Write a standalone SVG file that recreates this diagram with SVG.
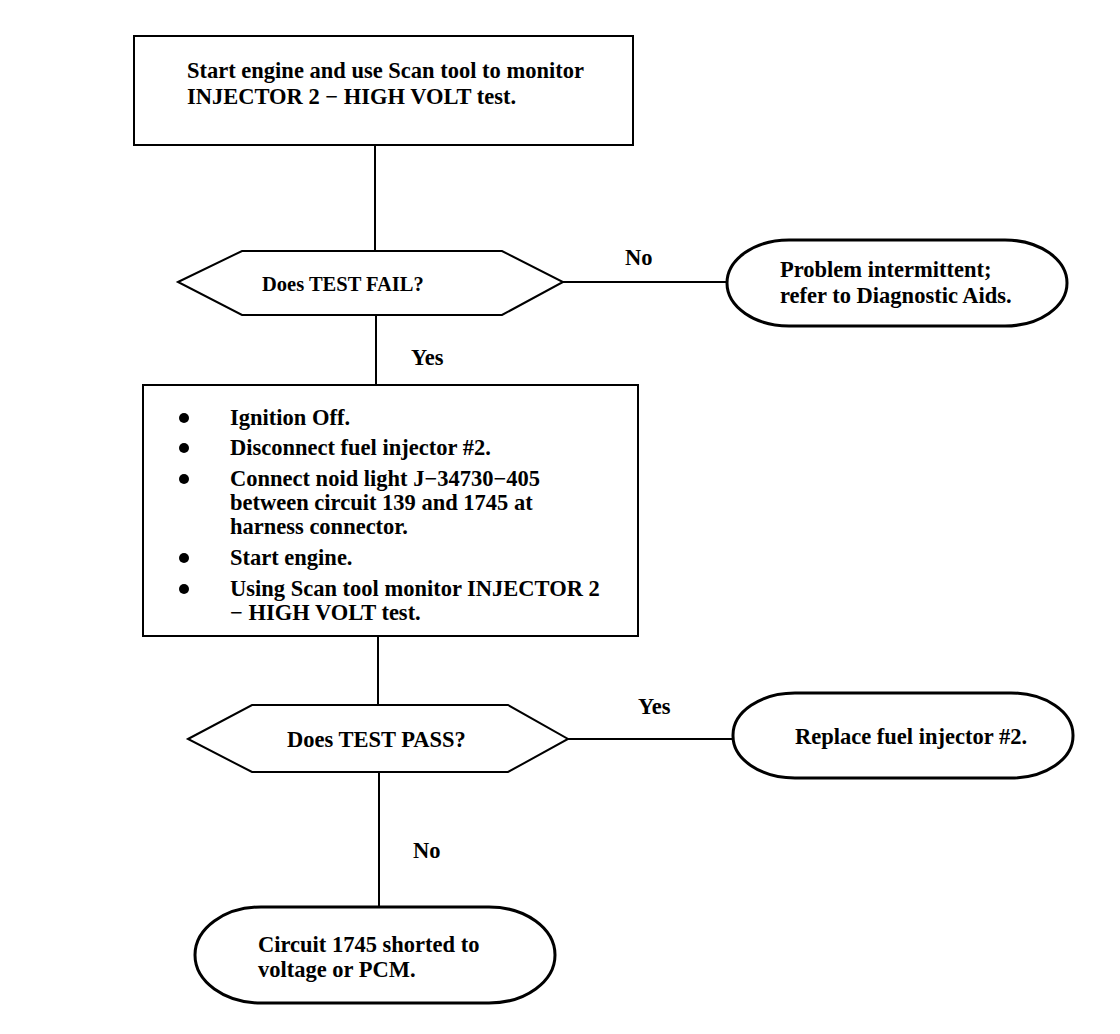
<svg xmlns="http://www.w3.org/2000/svg" width="1120" height="1034" viewBox="0 0 1120 1034">
<style>
.t{font-family:"Liberation Serif","Times New Roman",serif;font-size:22.5px;font-weight:bold;fill:#000}
.sm{font-size:20.5px}
.s{fill:#fff;stroke:#000;stroke-width:2}
.o{fill:#fff;stroke:#000;stroke-width:3}
.c{stroke:#000;stroke-width:2;fill:none}
</style>
<rect width="1120" height="1034" fill="#fff"/>
<g id="connectors">
<line class="c" x1="375" y1="145" x2="375" y2="251"/>
<line class="c" x1="376" y1="315" x2="376" y2="385"/>
<line class="c" x1="563" y1="282" x2="728" y2="282"/>
<line class="c" x1="378" y1="636" x2="378" y2="705"/>
<line class="c" x1="568" y1="739" x2="734" y2="739"/>
<line class="c" x1="379" y1="772" x2="379" y2="907"/>
<text class="t" x="625" y="265">No</text>
<text class="t" x="411" y="365">Yes</text>
<text class="t" x="638" y="714">Yes</text>
<text class="t" x="413" y="858">No</text>
</g>
<g id="start">
<rect class="s" x="134" y="36" width="499" height="109"/>
<text class="t" x="187" y="78">Start engine and use Scan tool to monitor</text>
<text class="t" x="187" y="104">INJECTOR 2 − HIGH VOLT test.</text>
</g>
<g id="testfail">
<polygon class="s" points="178,282 242,251 502,251 563,282 502,315 242,315"/>
<text class="t sm" x="262" y="291">Does TEST FAIL?</text>
</g>
<g id="intermittent">
<rect class="o" x="727" y="240" width="340" height="86" rx="62" ry="43"/>
<text class="t" x="780" y="277">Problem intermittent;</text>
<text class="t" x="780" y="303">refer to Diagnostic Aids.</text>
</g>
<g id="steps">
<rect class="s" x="143" y="385" width="495" height="251"/>
<g fill="#000">
<circle cx="184" cy="418" r="5"/>
<circle cx="184" cy="448" r="5"/>
<circle cx="184" cy="479" r="5"/>
<circle cx="184" cy="558" r="5"/>
<circle cx="184" cy="589" r="5"/>
</g>
<text class="t" x="230" y="425">Ignition Off.</text>
<text class="t" x="230" y="455">Disconnect fuel injector #2.</text>
<text class="t" x="230" y="486">Connect noid light J−34730−405</text>
<text class="t" x="230" y="510">between circuit 139 and 1745 at</text>
<text class="t" x="230" y="534">harness connector.</text>
<text class="t" x="230" y="565">Start engine.</text>
<text class="t" x="230" y="596">Using Scan tool monitor INJECTOR 2</text>
<text class="t" x="230" y="620">− HIGH VOLT test.</text>
</g>
<g id="testpass">
<polygon class="s" points="188,739 252,705 508,705 568,739 508,772 252,772"/>
<text class="t" x="287" y="747">Does TEST PASS?</text>
</g>
<g id="replace">
<rect class="o" x="733" y="693" width="340" height="85" rx="62" ry="42"/>
<text class="t" x="795" y="744">Replace fuel injector #2.</text>
</g>
<g id="shorted">
<rect class="o" x="195" y="907" width="360" height="96" rx="66" ry="48"/>
<text class="t" x="258" y="952">Circuit 1745 shorted to</text>
<text class="t" x="258" y="977">voltage or PCM.</text>
</g>
</svg>
